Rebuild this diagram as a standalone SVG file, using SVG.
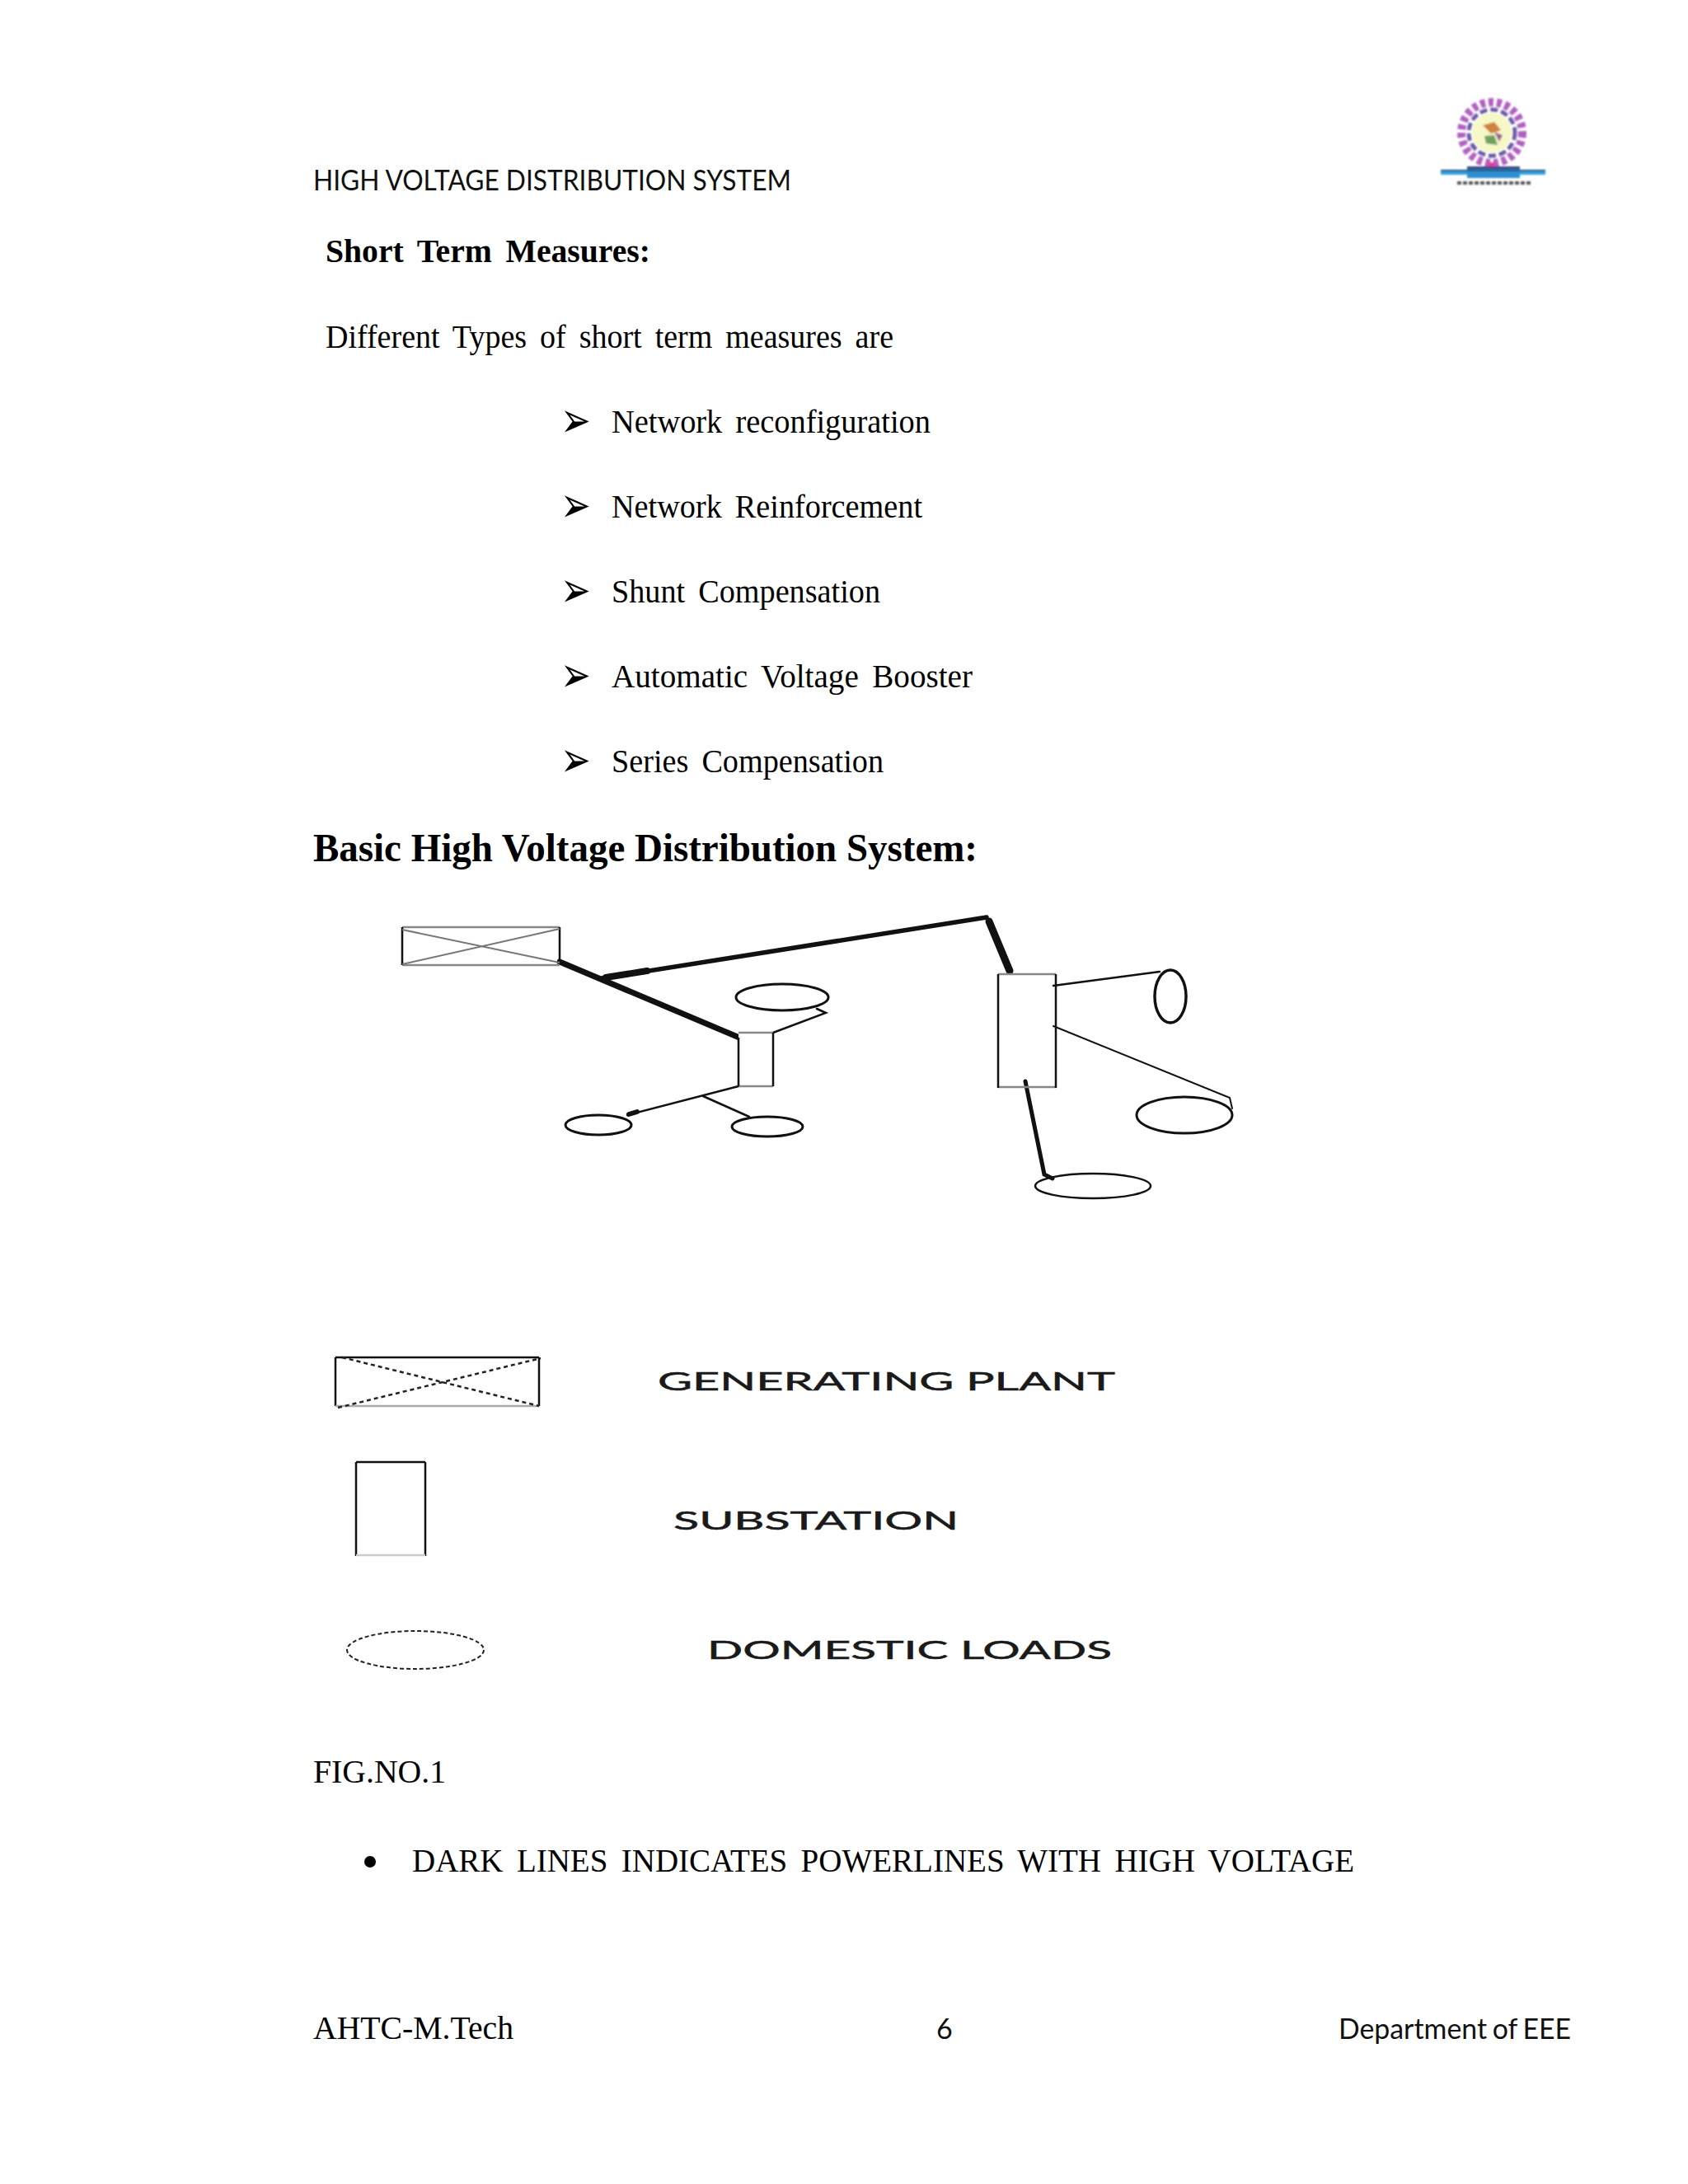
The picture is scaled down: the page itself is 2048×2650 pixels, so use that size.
<svg xmlns="http://www.w3.org/2000/svg" width="2048" height="2650" viewBox="0 0 2048 2650">
<defs>
<style>
.s{font-family:"Liberation Serif","Times New Roman",serif;fill:#000;font-size:41px;word-spacing:7px}
.b{font-weight:bold}
.c{font-family:Lato,"Open Sans",sans-serif;fill:#111;font-size:34px}
.a{font-family:"DejaVu Sans",sans-serif;font-size:44px;fill:#000}
.l{font-family:Lato,"Open Sans",sans-serif;font-size:31px;fill:#1a1a1a;stroke:#1a1a1a;stroke-width:.5}
.f{fill:#fff;stroke:none}
.d{fill:none;stroke:#111;stroke-width:2.5}
.g{fill:none;stroke:#888;stroke-width:2.5}
.e{fill:none;stroke:#111;stroke-width:3}
.x{fill:none;stroke:#777;stroke-width:2}
.w{fill:none;stroke:#111;stroke-linecap:round}
</style>
<filter id="soft" x="-10%" y="-10%" width="120%" height="120%"><feGaussianBlur stdDeviation="1.3"/></filter>
</defs>
<rect width="2048" height="2650" fill="#fff"/>

<g id="logo" filter="url(#soft)">
<circle cx="1810" cy="161" r="37" fill="none" stroke="#b060c0" stroke-width="10" stroke-dasharray="6 4"/>
<circle cx="1810" cy="161" r="28" fill="none" stroke="#6a5aa8" stroke-width="5" stroke-dasharray="9 4"/>
<circle cx="1810" cy="161" r="24" fill="#f6f8c8"/>
<path d="M1799 152L1813 148L1821 158L1809 162Z" fill="#d08040"/>
<path d="M1801 165L1813 164L1817 176L1803 174Z" fill="#70a060"/>
<path d="M1813 160L1823 164L1819 172Z" fill="#a06090"/>
<rect x="1805" y="197" width="9" height="12" fill="#e040a0"/>
<rect x="1748" y="207" width="127" height="5" fill="#30a0e0"/>
<rect x="1780" y="202" width="64" height="14" fill="#2f90d0"/>
<rect x="1780" y="202" width="64" height="3" fill="#304080"/>
<rect x="1748" y="206" width="127" height="1.5" fill="#203050"/>
<path d="M1768 222H1858" stroke="#555" stroke-width="4" stroke-dasharray="5 2" fill="none"/>
</g>

<text class="c" x="380" y="231" textLength="580" lengthAdjust="spacingAndGlyphs">HIGH VOLTAGE DISTRIBUTION SYSTEM</text>
<text class="s b" x="395" y="318" textLength="394" lengthAdjust="spacingAndGlyphs">Short Term Measures:</text>
<text class="s" x="395" y="422" textLength="689" lengthAdjust="spacingAndGlyphs">Different Types of short term measures are</text>

<text class="a" transform="translate(680 530) scale(1 1.35)">➢</text>
<text class="s" x="742" y="525" textLength="387" lengthAdjust="spacingAndGlyphs">Network reconfiguration</text>
<text class="a" transform="translate(680 633) scale(1 1.35)">➢</text>
<text class="s" x="742" y="628" textLength="377" lengthAdjust="spacingAndGlyphs">Network Reinforcement</text>
<text class="a" transform="translate(680 736) scale(1 1.35)">➢</text>
<text class="s" x="742" y="731" textLength="326" lengthAdjust="spacingAndGlyphs">Shunt Compensation</text>
<text class="a" transform="translate(680 839) scale(1 1.35)">➢</text>
<text class="s" x="742" y="834" textLength="438" lengthAdjust="spacingAndGlyphs">Automatic Voltage Booster</text>
<text class="a" transform="translate(680 942) scale(1 1.35)">➢</text>
<text class="s" x="742" y="937" textLength="330" lengthAdjust="spacingAndGlyphs">Series Compensation</text>

<text class="s b" x="380" y="1045" style="font-size:48px;word-spacing:0" textLength="806" lengthAdjust="spacingAndGlyphs">Basic High Voltage Distribution System:</text>

<g id="connectors">
<path class="w" stroke-width="7" d="M679 1167L897 1259"/>
<path class="w" stroke-width="5.5" d="M730 1187L1197 1113"/>
<path class="w" stroke-width="8" d="M735 1186L785 1178"/>
<path class="w" stroke-width="9" d="M1200 1118L1225 1178"/>
<path class="w" stroke-width="2.5" d="M938 1253L1002 1229L991 1224"/>
<path class="w" stroke-width="2.5" d="M896 1318L761 1353"/>
<path class="w" stroke-width="6" d="M763 1352L773 1349"/>
<path class="w" stroke-width="2.5" d="M853 1330L909 1355"/>
<path class="w" stroke-width="2.5" d="M1278 1196L1407 1179"/>
<path class="w" stroke-width="2" d="M1278 1245L1492 1332L1495 1345"/>
<path class="w" stroke-width="5" d="M1244 1312L1267 1425L1277 1430"/>
</g>

<g id="generating-plant">
<path class="g" d="M488 1125H679M488 1171H679"/>
<path class="d" d="M488 1125V1171M679 1125V1168"/>
<path class="x" d="M488 1128L679 1168M488 1170L679 1127"/>
</g>
<g id="substation-1"><rect class="f" x="896" y="1253" width="42" height="65"/>
<path class="g" d="M896 1253H938M896 1318H938"/><path class="d" d="M896 1259V1318M938 1253V1318"/></g>
<g id="substation-2">
<path class="g" d="M1211 1182H1281M1211 1319H1281"/><path class="d" d="M1211 1182V1320M1281 1182V1320"/></g>
<g id="load-1"><ellipse class="e" cx="949" cy="1210" rx="56" ry="16"/></g>
<g id="load-2"><ellipse class="e" cx="726" cy="1365" rx="40" ry="12"/></g>
<g id="load-3"><ellipse class="e" cx="931" cy="1367" rx="43" ry="12"/></g>
<g id="load-4"><ellipse class="e" cx="1420" cy="1209" rx="19" ry="32" style="stroke-width:3.5"/></g>
<g id="load-5"><ellipse class="e" cx="1437" cy="1353" rx="58" ry="22"/></g>
<g id="load-6"><ellipse class="e" cx="1326" cy="1439" rx="70" ry="15" style="stroke-width:2.5"/></g>

<g id="legend-plant">
<path class="d" d="M407 1647H654M407 1647V1706M654 1647V1706"/>
<path class="g" style="stroke:#aaa" d="M407 1706H654"/>
<path class="x" stroke-dasharray="5 4" style="stroke:#222;stroke-width:2.5" d="M415 1647L654 1706M410 1708L656 1648"/>
<text class="l" x="798" y="1687" textLength="555" lengthAdjust="spacingAndGlyphs">GENERATING PLANT</text>
</g>
<g id="legend-substation">
<path class="d" d="M432 1774H516M432 1774V1888M516 1774V1888"/>
<path class="g" style="stroke:#ccc" d="M432 1887H516"/>
<text class="l" x="817" y="1856" textLength="346" lengthAdjust="spacingAndGlyphs">SUBSTATION</text>
</g>
<g id="legend-load">
<ellipse cx="504" cy="2002" rx="83" ry="23" fill="none" stroke="#222" stroke-width="2" stroke-dasharray="5 3"/>
<text class="l" x="858" y="2013" textLength="491" lengthAdjust="spacingAndGlyphs">DOMESTIC LOADS</text>
</g>

<text class="s" x="380" y="2163" textLength="161" lengthAdjust="spacingAndGlyphs">FIG.NO.1</text>
<circle cx="449" cy="2259" r="7" fill="#000"/>
<text class="s" x="500" y="2271" textLength="1143" lengthAdjust="spacingAndGlyphs">DARK LINES INDICATES POWERLINES WITH HIGH VOLTAGE</text>

<text class="s" x="380" y="2474" textLength="243" lengthAdjust="spacingAndGlyphs">AHTC-M.Tech</text>
<text class="c" x="1136" y="2474">6</text>
<text class="c" x="1624" y="2474" style="word-spacing:-2px" textLength="282" lengthAdjust="spacingAndGlyphs">Department of EEE</text>
</svg>
